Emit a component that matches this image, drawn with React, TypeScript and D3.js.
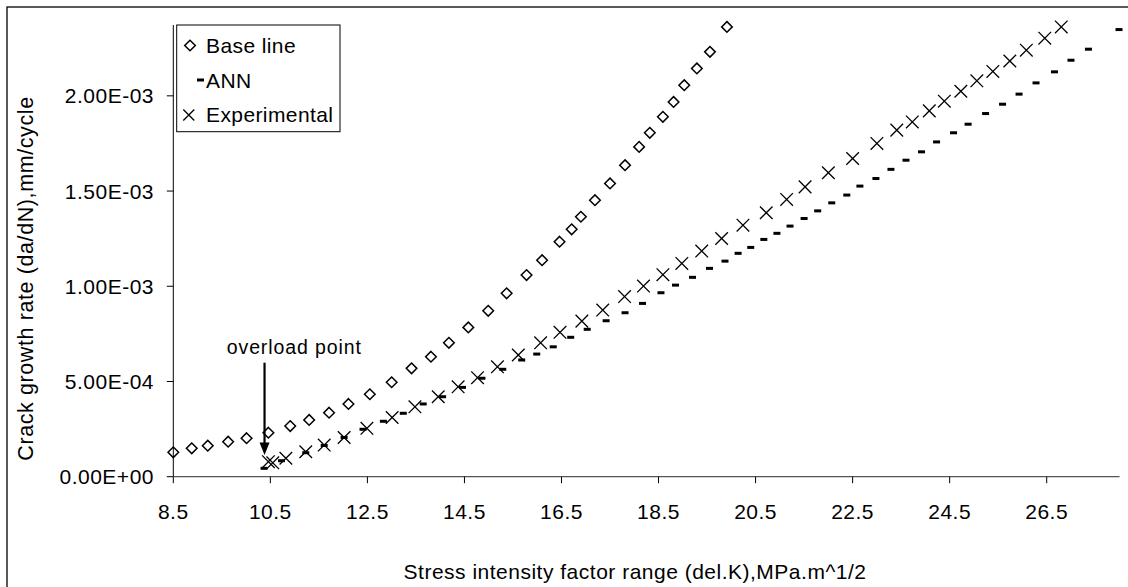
import React from "react";
import * as d3 from "d3";

// Base line (diamonds)
const baseK = [8.50, 8.88, 9.21, 9.63, 10.01, 10.46, 10.91, 11.30, 11.71, 12.11, 12.55, 13.00, 13.41, 13.81, 14.18, 14.58, 14.99, 15.37, 15.78, 16.10, 16.46, 16.71, 16.90, 17.19, 17.50, 17.81, 18.10, 18.32, 18.59, 18.81, 19.03, 19.29, 19.56, 19.91];
const baseRate = [1.28e-4, 1.49e-4, 1.63e-4, 1.84e-4, 2.02e-4, 2.31e-4, 2.66e-4, 2.98e-4, 3.36e-4, 3.82e-4, 4.33e-4, 4.96e-4, 5.69e-4, 6.30e-4, 7.03e-4, 7.84e-4, 8.71e-4, 9.63e-4, 1.059e-3, 1.137e-3, 1.234e-3, 1.299e-3, 1.365e-3, 1.452e-3, 1.540e-3, 1.636e-3, 1.732e-3, 1.806e-3, 1.890e-3, 1.968e-3, 2.056e-3, 2.144e-3, 2.231e-3, 2.362e-3];

// ANN (dashes)
const annK = [10.37, 10.73, 11.23, 11.61, 12.02, 12.41, 12.83, 13.24, 13.65, 14.05, 14.46, 14.86, 15.29, 15.68, 15.99, 16.33, 16.69, 17.03, 17.42, 17.81, 18.17, 18.55, 18.85, 19.20, 19.55, 19.87, 20.14, 20.40, 20.67, 20.94, 21.21, 21.50, 21.78, 22.07, 22.38, 22.65, 22.98, 23.29, 23.60, 23.92, 24.23, 24.58, 24.88, 25.24, 25.59, 25.93, 26.28, 26.66, 27.00, 27.36, 27.99];
const annRate = [4.4e-5, 8.4e-5, 1.26e-4, 1.64e-4, 2.06e-4, 2.49e-4, 2.91e-4, 3.33e-4, 3.82e-4, 4.20e-4, 4.69e-4, 5.17e-4, 5.64e-4, 6.13e-4, 6.44e-4, 6.82e-4, 7.32e-4, 7.74e-4, 8.19e-4, 8.61e-4, 9.10e-4, 9.66e-4, 1.006e-3, 1.047e-3, 1.094e-3, 1.132e-3, 1.173e-3, 1.204e-3, 1.246e-3, 1.278e-3, 1.316e-3, 1.356e-3, 1.396e-3, 1.438e-3, 1.479e-3, 1.526e-3, 1.566e-3, 1.614e-3, 1.662e-3, 1.706e-3, 1.758e-3, 1.806e-3, 1.851e-3, 1.907e-3, 1.956e-3, 2.009e-3, 2.068e-3, 2.126e-3, 2.187e-3, 2.245e-3, 2.348e-3];

// Experimental (crosses)
const expK = [10.46, 10.55, 10.82, 11.23, 11.61, 12.02, 12.49, 13.01, 13.48, 13.96, 14.37, 14.77, 15.18, 15.61, 16.07, 16.47, 16.92, 17.35, 17.80, 18.19, 18.59, 18.98, 19.39, 19.80, 20.24, 20.72, 21.14, 21.52, 22.00, 22.50, 23.00, 23.41, 23.73, 24.08, 24.39, 24.73, 25.06, 25.39, 25.74, 26.08, 26.46, 26.80];
const expRate = [7.9e-5, 7.3e-5, 9.7e-5, 1.31e-4, 1.66e-4, 2.06e-4, 2.54e-4, 3.11e-4, 3.67e-4, 4.20e-4, 4.72e-4, 5.20e-4, 5.77e-4, 6.39e-4, 7.03e-4, 7.58e-4, 8.17e-4, 8.75e-4, 9.46e-4, 1.001e-3, 1.061e-3, 1.120e-3, 1.185e-3, 1.251e-3, 1.321e-3, 1.386e-3, 1.456e-3, 1.522e-3, 1.596e-3, 1.671e-3, 1.750e-3, 1.820e-3, 1.863e-3, 1.921e-3, 1.972e-3, 2.024e-3, 2.079e-3, 2.128e-3, 2.183e-3, 2.240e-3, 2.303e-3, 2.362e-3];

const xTicks = [8.5, 10.5, 12.5, 14.5, 16.5, 18.5, 20.5, 22.5, 24.5, 26.5];
const yTicks = [0, 5e-4, 1e-3, 1.5e-3, 2e-3];
const legendLabels = ["Base line", "ANN", "Experimental"];
const xTitle = "Stress intensity factor range (del.K),MPa.m^1/2";
const yTitle = "Crack growth rate (da/dN),mm/cycle";
const annotation = "overload point";
const overloadK = 10.37;

const FONT = "'Liberation Sans', Arial, Helvetica, sans-serif";

function fmtE(v: number): string {
  if (v === 0) return "0.00E+00";
  const e = Math.floor(Math.log10(Math.abs(v)) + 1e-9);
  const m = v / Math.pow(10, e);
  const sign = e < 0 ? "-" : "+";
  const ae = Math.abs(e);
  return `${m.toFixed(2)}E${sign}${ae < 10 ? "0" + ae : ae}`;
}

export default function App() {
  const W = 1128, H = 587;
  const x = d3.scaleLinear().domain([8.5, 28]).range([173.3, 1119.5]);
  const y = d3.scaleLinear().domain([0, 2.372e-3]).range([476.7, 25]);
  const [x0, x1] = x.range();
  const [y0, y1] = y.range();

  const diamond = (cx: number, cy: number, r: number) =>
    `M${cx},${cy - r}L${cx + r},${cy}L${cx},${cy + r}L${cx - r},${cy}Z`;
  const cross = (cx: number, cy: number, r: number) =>
    `M${cx - r},${cy - r}L${cx + r},${cy + r}M${cx - r},${cy + r}L${cx + r},${cy - r}`;

  const arrowX = x(overloadK) + 0.5;

  return (
    <svg
      width={W}
      height={H}
      style={{ position: "absolute", left: 0, top: 0, display: "block", background: "#fff" }}
      fontFamily={FONT}
    >
      <rect x={0} y={0} width={W} height={H} fill="#fff" />
      {/* outer chart border */}
      <rect x={7} y={7} width={W + 20} height={H + 20} fill="none" stroke="#000" strokeWidth={1.3} />

      {/* axes */}
      <line x1={x0} x2={x0} y1={y1} y2={y0} stroke="#000" strokeWidth={1} />
      <line x1={x0} x2={x1} y1={y0} y2={y0} stroke="#555" strokeWidth={1.2} />

      {/* y ticks */}
      {yTicks.map((t) => (
        <g key={"yt" + t}>
          <line x1={x0 - 6.5} x2={x0} y1={y(t)} y2={y(t)} stroke="#000" strokeWidth={1} />
          <text
            x={154}
            y={y(t)}
            dy="0.36em"
            textAnchor="end"
            fontSize={21}
            letterSpacing={0.5}
            fill="#000"
          >
            {fmtE(t)}
          </text>
        </g>
      ))}

      {/* x ticks */}
      {xTicks.map((t) => (
        <g key={"xt" + t}>
          <line x1={x(t)} x2={x(t)} y1={y0} y2={y0 + 6.5} stroke="#000" strokeWidth={1} />
          <text x={x(t)} y={519} textAnchor="middle" fontSize={21} letterSpacing={0.5} fill="#000">
            {t.toFixed(1)}
          </text>
        </g>
      ))}

      {/* axis titles */}
      <text x={635} y={579} textAnchor="middle" fontSize={21} letterSpacing={0.5} fill="#000">
        {xTitle}
      </text>
      <text
        transform={`translate(33,278.5) rotate(-90)`}
        textAnchor="middle"
        fontSize={21.5}
        letterSpacing={0.6}
        fill="#000"
      >
        {yTitle}
      </text>

      {/* Base line diamonds */}
      {baseK.map((k, i) => (
        <path
          key={"b" + i}
          d={diamond(x(k), y(baseRate[i]), 5.3)}
          fill="none"
          stroke="#000"
          strokeWidth={1.5}
        />
      ))}

      {/* ANN dashes */}
      {annK.map((k, i) => (
        <rect
          key={"a" + i}
          x={x(k) - 3.5}
          y={y(annRate[i]) - 1.5}
          width={7}
          height={3}
          fill="#000"
        />
      ))}

      {/* Experimental crosses */}
      {expK.map((k, i) => (
        <path
          key={"e" + i}
          d={cross(x(k), y(expRate[i]), 6.3)}
          fill="none"
          stroke="#000"
          strokeWidth={1.3}
        />
      ))}

      {/* overload annotation */}
      <text x={294.3} y={354.3} textAnchor="middle" fontSize={19.5} letterSpacing={0.9} fill="#000">
        {annotation}
      </text>
      <line x1={arrowX} x2={arrowX} y1={362.7} y2={446} stroke="#000" strokeWidth={2.2} />
      <path d={`M${arrowX - 5},${442.5}L${arrowX + 5},${442.5}L${arrowX},${455}Z`} fill="#000" />

      {/* legend */}
      <rect x={176.7} y={25} width={163.3} height={106.7} fill="#fff" stroke="#000" strokeWidth={1} />
      <path d={diamond(190, 45.5, 5.3)} fill="none" stroke="#000" strokeWidth={1.5} />
      <rect x={197} y={78.5} width={7} height={3} fill="#000" />
      <path d={cross(188.8, 115, 5.5)} fill="none" stroke="#000" strokeWidth={1.3} />
      {legendLabels.map((l, i) => (
        <text key={"l" + i} x={206} y={52.7 + i * 34.8} fontSize={21} letterSpacing={0.4} fill="#000">
          {l}
        </text>
      ))}
    </svg>
  );
}
